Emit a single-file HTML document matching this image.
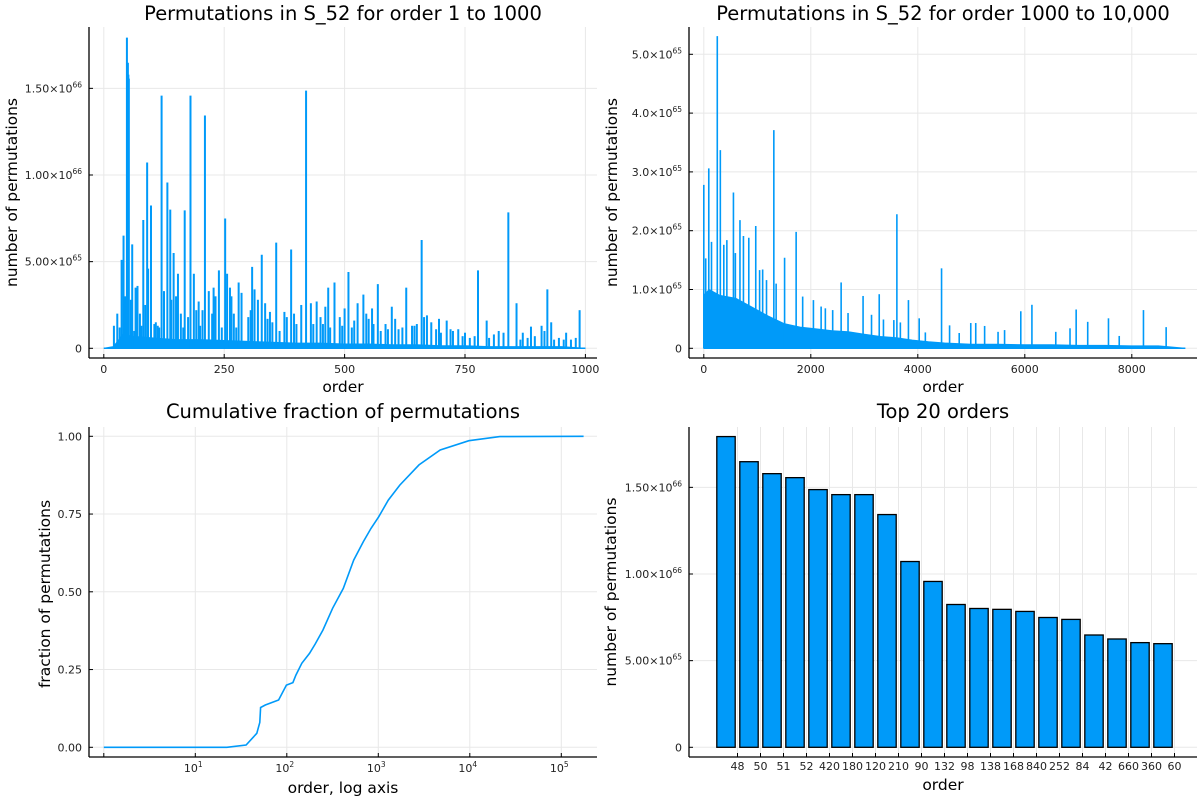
<!DOCTYPE html>
<html><head><meta charset="utf-8"><style>
body{margin:0;background:#fff;}
svg{display:block;font-family:"DejaVu Sans","Liberation Sans",sans-serif;}
.tl{font-size:11px;fill:#222;}
.tt{font-size:19.5px;fill:#000;}
.al{font-size:15.5px;fill:#000;}
</style></head><body>
<svg id="chart" width="1200" height="800" viewBox="0 0 1200 800"></svg>
<script>
// ---- data: panel 1 (orders 1..1000), values in 1e66
const p1Orders=[21,28,37,41,48,50,51,52,59,70,82,90,92,98,120,125,132,138,145,154,168,180,187,197,210,218,228,239,252,256,262,280,286,308,313,328,335,358,389,420,430,442,466,479,508,527,539,557,569,598,628,660,671,696,712,736,777,795,820,840,857,887,909,921,929,960,988];
const p1Values=[0.13,0.2,0.51,0.65,1.793,1.648,1.579,1.556,0.6,0.36,0.74,1.072,0.46,0.824,1.458,0.33,0.957,0.8,0.55,0.43,0.796,1.458,0.43,0.27,1.343,0.33,0.35,0.45,0.749,0.43,0.35,0.38,0.32,0.47,0.34,0.54,0.26,0.61,0.57,1.487,0.26,0.27,0.35,0.38,0.44,0.26,0.31,0.23,0.37,0.24,0.35,0.625,0.19,0.17,0.16,0.11,0.45,0.16,0.10,0.784,0.26,0.125,0.13,0.34,0.15,0.09,0.22];
const p1MinorOrders=[33,44,56,63,66,75,78,86,105,108,112,115,140,150,160,165,175,192,200,205,225,232,245,265,270,275,300,305,320,340,345,350,365,375,380,395,400,410,435,450,455,460,470,490,495,500,515,520,545,550,560,575,585,590,605,612,620,640,645,650,665,680,690,700,720,725,745,750,760,770,800,810,830,865,870,880,895,915,935,945,955,970,980];
const p1MinorValues=[0.12,0.3,0.28,0.1,0.35,0.2,0.13,0.25,0.14,0.15,0.13,0.12,0.28,0.3,0.2,0.12,0.18,0.22,0.13,0.22,0.2,0.3,0.12,0.3,0.2,0.12,0.18,0.22,0.28,0.17,0.21,0.15,0.1,0.21,0.18,0.2,0.14,0.25,0.14,0.18,0.14,0.24,0.12,0.18,0.13,0.23,0.12,0.16,0.2,0.17,0.14,0.1,0.14,0.11,0.17,0.11,0.12,0.13,0.13,0.14,0.18,0.15,0.11,0.09,0.11,0.1,0.07,0.09,0.06,0.07,0.06,0.08,0.09,0.05,0.09,0.06,0.07,0.1,0.05,0.06,0.05,0.05,0.06];
const p1EnvX=[0,20,40,60,100,150,200,250,300,350,400,450,500,550,600,650,700,750,800,850,900,950,1000];
const p1EnvY=[0,0.01,0.08,0.07,0.06,0.05,0.05,0.045,0.04,0.035,0.03,0.03,0.025,0.025,0.02,0.02,0.015,0.015,0.01,0.01,0.01,0.01,0];
// ---- panel 2 (orders 1000..10000 by index), values in 1e65
const p2Orders=[0,36,93,144,252,309,374,431,554,590,676,741,841,971,1043,1100,1172,1309,1352,1510,1726,1848,2049,2193,2272,2409,2567,2696,2977,3135,3279,3358,3552,3609,3674,3825,4026,4141,4444,4594,4774,4990,5083,5249,5500,5622,5925,6133,6579,6845,6960,7176,7564,7765,8218,8642];
const p2Values=[2.78,1.53,3.06,1.81,5.31,3.37,1.76,1.84,2.65,1.62,2.18,1.91,1.88,2.08,1.33,1.34,1.16,3.71,1.1,1.54,1.98,0.88,0.82,0.71,0.68,0.65,1.12,0.6,0.89,0.57,0.92,0.49,0.48,2.28,0.44,0.82,0.51,0.27,1.36,0.39,0.26,0.43,0.43,0.38,0.28,0.31,0.63,0.74,0.28,0.34,0.66,0.45,0.51,0.21,0.65,0.36];
const p2EnvX=[0,100,300,600,900,1200,1500,1800,2100,2400,2700,3000,3300,3600,3900,4200,4500,5000,5500,6000,6500,7000,7500,8000,8500,9000];
const p2EnvY=[0.9,1.0,0.9,0.85,0.7,0.55,0.42,0.36,0.33,0.3,0.28,0.24,0.2,0.18,0.14,0.11,0.09,0.07,0.07,0.06,0.06,0.05,0.05,0.04,0.04,0];
// ---- panel 3 cumulative (log10 order, fraction)
const cumLog=[0,1.345,1.555,1.672,1.705,1.714,1.765,1.91,1.996,2.067,2.10,2.164,2.248,2.31,2.395,2.5,2.618,2.731,2.836,2.92,3.004,3.109,3.235,3.445,3.676,3.99,4.328,5.244];
const cumFrac=[0,0,0.0075,0.045,0.08,0.128,0.136,0.152,0.2,0.208,0.232,0.27,0.302,0.332,0.377,0.447,0.511,0.602,0.661,0.704,0.741,0.795,0.843,0.908,0.956,0.986,0.999,1.0];
// ---- panel 4 top 20 (values in 1e66)
const topOrders=["48","50","51","52","420","180","120","210","90","132","98","138","168","840","252","84","42","660","360","60"];
const topValues=[1.793,1.648,1.579,1.556,1.487,1.458,1.458,1.343,1.072,0.957,0.824,0.801,0.796,0.784,0.749,0.738,0.648,0.625,0.604,0.598];

const NS="http://www.w3.org/2000/svg";
const svg=document.getElementById('chart');
const BLUE="#009af9", GRID="#e8e8e8";
function mk(tag,attrs,parent){const e=document.createElementNS(NS,tag);for(const k in attrs)e.setAttribute(k,attrs[k]);(parent||svg).appendChild(e);return e;}
function txt(x,y,s,cls,anchor,parent){const t=mk('text',{x:x,y:y,class:cls,'text-anchor':anchor||'middle'},parent);t.textContent=s;return t;}
function sciLabel(x,y,mant,exp,parent){const t=mk('text',{x:x,y:y,class:'tl','text-anchor':'end'},parent);
 t.appendChild(document.createTextNode(mant+"×10"));const s=mk('tspan',{dy:-5,'font-size':'7.5'},t);s.textContent=exp;return t;}

function panel(name){const g=mk('g',{});return g;}
function axesLines(g,L,T,R,B){
 const a=mk('line',{x1:L,y1:T,x2:L,y2:B,stroke:'#000','stroke-width':1.3},g);
 const b=mk('line',{x1:L,y1:B,x2:R,y2:B,stroke:'#000','stroke-width':1.3},g);}

function drawSpikePanel(name,L,T,R,B,xs,ys,xTicks,xTickLbl,yTicks,yMant,yExps,orders,vals,minO,minV,envX,envY,title,yl,xl,lw){
 const g=panel(name);
 const grid=mk('g',{},g);
 xTicks.forEach((v,i)=>{const X=xs(v);mk('line',{x1:X,y1:T,x2:X,y2:B,stroke:GRID,'stroke-width':1},grid);
   mk('line',{x1:X,y1:B,x2:X,y2:B-4,stroke:'#000','stroke-width':1},g);
   const t=txt(X,B+15,xTickLbl[i],'tl','middle',g);});
 yTicks.forEach((v,i)=>{const Y=ys(v);mk('line',{x1:L,y1:Y,x2:R,y2:Y,stroke:GRID,'stroke-width':1},grid);
   mk('line',{x1:L,y1:Y,x2:L+4,y2:Y,stroke:'#000','stroke-width':1},g);
   let t; if(yMant[i]==="0") t=txt(L-7,Y+4,"0",'tl','end',g); else t=sciLabel(L-7,Y+4,yMant[i],yExps[i],g);
   });
 let d="M"+xs(envX[0])+","+ys(0);
 envX.forEach((v,i)=>{d+=" L"+xs(v).toFixed(1)+","+ys(envY[i]).toFixed(1);});
 d+=" L"+xs(envX[envX.length-1])+","+ys(0)+" Z";
 const env=mk('path',{d:d,fill:BLUE,stroke:BLUE,'stroke-width':1},g);
 
 mk('line',{x1:xs(envX[0]),y1:ys(0),x2:xs(envX[envX.length-1]),y2:ys(0),stroke:BLUE,'stroke-width':1.5},g);
 minO.forEach((o,i)=>{const X=xs(o);
   const l=mk('line',{x1:X,y1:ys(0),x2:X,y2:ys(minV[i]),stroke:BLUE,'stroke-width':lw},g);
   });
 orders.forEach((o,i)=>{const X=xs(o);
   const l=mk('line',{x1:X,y1:ys(0),x2:X,y2:ys(vals[i]),stroke:BLUE,'stroke-width':lw},g);
   });
 axesLines(g,L,T,R,B);
 const tt=txt((L+R)/2,20,title,'tt','middle',g);
 const xa=txt((L+R)/2,B+34,xl,'al','middle',g);
 const ya=mk('text',{x:0,y:0,class:'al','text-anchor':'middle',transform:`translate(${L-72},${(T+B)/2}) rotate(-90)`},g);ya.textContent=yl;
 
}

// Panel 1
{const L=89,T=27,R=597,B=358;
 const xs=v=>103.8+v*0.4816, ys=v=>348.3-v*173.3;
 drawSpikePanel('panel-orders-1-1000',L,T,R,B,xs,ys,[0,250,500,750,1000],["0","250","500","750","1000"],[0,0.5,1.0,1.5],["0","5.00","1.00","1.50"],["","65","66","66"],p1Orders,p1Values,p1MinorOrders,p1MinorValues,p1EnvX,p1EnvY,"Permutations in S_52 for order 1 to 1000","number of permutations","order",2);
}
// Panel 2
{const L=689,T=27,R=1197,B=358;
 const xs=v=>703.8+v*0.0535, ys=v=>348.3-v*58.8;
 drawSpikePanel('panel-orders-1000-10000',L,T,R,B,xs,ys,[0,2000,4000,6000,8000],["0","2000","4000","6000","8000"],[0,1,2,3,4,5],["0","1.0","2.0","3.0","4.0","5.0"],["","65","65","65","65","65"],p2Orders,p2Values,[],[],p2EnvX,p2EnvY,"Permutations in S_52 for order 1000 to 10,000","number of permutations","order",1.6);
}

// Panel 3 cumulative
{const L=89,T=427,R=597,B=757;
 const xs=v=>103.8+v*91.5, ys=v=>747.3-v*311;
 const g=panel('panel-cumulative');
 const grid=mk('g',{},g);
 [0,1,2,3,4,5].forEach(v=>{const X=xs(v);mk('line',{x1:X,y1:T,x2:X,y2:B,stroke:GRID},grid);mk('line',{x1:X,y1:B,x2:X,y2:B-4,stroke:'#000'},g);
   if(v>0){const t=mk('text',{x:X-2,y:B+15,class:'tl','text-anchor':'middle'},g);t.appendChild(document.createTextNode("10"));
   const s=mk('tspan',{dy:-5,'font-size':'7.5'},t);s.textContent=String(v);
   }});
 [0,0.25,0.5,0.75,1].forEach(v=>{const Y=ys(v);mk('line',{x1:L,y1:Y,x2:R,y2:Y,stroke:GRID},grid);mk('line',{x1:L,y1:Y,x2:L+4,y2:Y,stroke:'#000'},g);
   const t=txt(L-7,Y+4,v.toFixed(2),'tl','end',g);});
 let d="";cumLog.forEach((v,i)=>{d+=(i?" L":"M")+xs(v).toFixed(1)+","+ys(cumFrac[i]).toFixed(1);});
 const p=mk('path',{d:d,fill:'none',stroke:BLUE,'stroke-width':1.6},g);
 axesLines(g,L,T,R,B);
 const tt=txt((L+R)/2,418,"Cumulative fraction of permutations",'tt','middle',g);
 const xa=txt((L+R)/2,793,"order, log axis",'al','middle',g);
 const ya=mk('text',{x:0,y:0,class:'al','text-anchor':'middle',transform:`translate(50,${(T+B)/2+2}) rotate(-90)`},g);ya.textContent="fraction of permutations";
 
}

// Panel 4 bars
{const L=689,T=427,R=1197,B=757;
 const xs=k=>714.5+k*23, ys=v=>747.3-v*173.3;
 const g=panel('panel-top-20');
 const grid=mk('g',{},g);
 topOrders.forEach((o,j)=>{const X=xs(j+1);mk('line',{x1:X,y1:T,x2:X,y2:B,stroke:GRID},grid);mk('line',{x1:X,y1:B,x2:X,y2:B-4,stroke:'#000'},g);
   const t=txt(X,B+13,o,'tl','middle',g);});
 [[0,"0",""],[0.5,"5.00","65"],[1.0,"1.00","66"],[1.5,"1.50","66"]].forEach(a=>{const Y=ys(a[0]);mk('line',{x1:L,y1:Y,x2:R,y2:Y,stroke:GRID},grid);
   mk('line',{x1:L,y1:Y,x2:L+4,y2:Y,stroke:'#000'},g);
   let t; if(a[1]==="0")t=txt(L-7,Y+4,"0",'tl','end',g); else t=sciLabel(L-7,Y+4,a[1],a[2],g);
   });
 topValues.forEach((v,i)=>{const cx=xs(i+0.5),w=0.8*23;
   const r=mk('rect',{x:cx-w/2,y:ys(v),width:w,height:ys(0)-ys(v),fill:BLUE,stroke:'#000','stroke-width':1.3},g);
   });
 axesLines(g,L,T,R,B);
 const tt=txt((L+R)/2,418,"Top 20 orders",'tt','middle',g);
 const xa=txt((L+R)/2,790,"order",'al','middle',g);
 const ya=mk('text',{x:0,y:0,class:'al','text-anchor':'middle',transform:`translate(616,${(T+B)/2}) rotate(-90)`},g);ya.textContent="number of permutations";
 
}
</script>
</body></html>
